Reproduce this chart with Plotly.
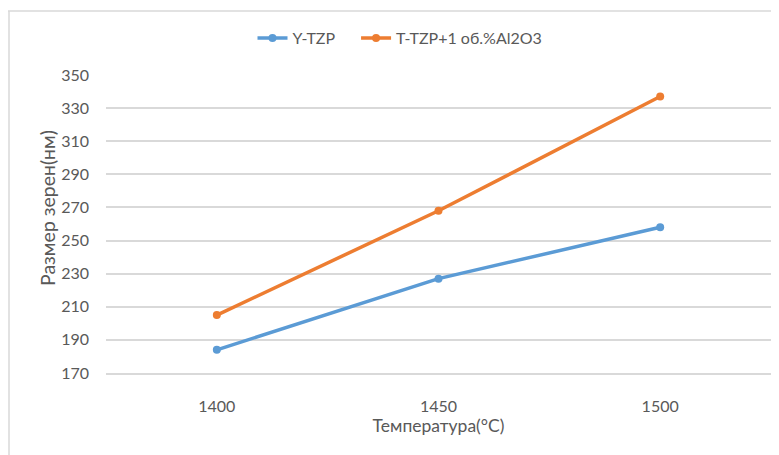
import plotly.graph_objects as go

temps = ["1400", "1450", "1500"]
y_tzp = [184, 227, 258]
t_tzp_al = [205, 268, 337]
y_ticks = [170, 190, 210, 230, 250, 270, 290, 310, 330, 350]

W, H = 779, 455
OFF = 8  # page body margin offset
L, R, T, B = 98, 16, 67, 90
pw, ph = W - L - R, H - T - B

def px(x):
    return (x - OFF - L) / pw

def py(y):
    return (H - B - (y - OFF)) / ph

font = "Lato, 'Open Sans', sans-serif"
grey = "#595959"
NB = "\u00a0"

fig = go.Figure()
fig.add_trace(go.Scatter(x=temps, y=y_tzp, name="Y-TZP" + NB * 4, mode="lines+markers",
                         line=dict(color="#5b9bd5", width=3.5),
                         marker=dict(size=8, color="#5b9bd5")))
fig.add_trace(go.Scatter(x=temps, y=t_tzp_al, name="T-TZP+1 об.%Al2O3", mode="lines+markers",
                         line=dict(color="#ed7d31", width=3.5),
                         marker=dict(size=8, color="#ed7d31")))

fig.update_layout(
    width=W, height=H,
    margin=dict(l=L, r=R, t=T, b=B),
    paper_bgcolor="white", plot_bgcolor="white",
    font=dict(family=font, color=grey, size=16),
    showlegend=True,
    legend=dict(orientation="h", x=px(400), xanchor="center", y=py(38), yanchor="middle",
                font=dict(size=16, color=grey), itemwidth=30),
    xaxis=dict(type="category", range=[-0.5, 2.5], showgrid=False,
               showline=True, linecolor="#d9d9d9", linewidth=1.5, ticks="",
               ticklabelstandoff=18,
               title=dict(text="Температура(°C)", font=dict(size=17.5, color=grey), standoff=6),
               tickfont=dict(size=16, color=grey)),
    yaxis=dict(range=[170, 350], tickvals=y_ticks, showgrid=True, gridcolor="#d9d9d9",
               gridwidth=1.5, zeroline=False, showline=False, ticks="",
               ticklabelstandoff=16,
               tickfont=dict(size=16, color=grey)),
    annotations=[
        dict(text="Размер зерен(нм)", xref="paper", yref="paper", x=px(47), y=py(208),
             xanchor="center", yanchor="middle", textangle=-90, showarrow=False,
             font=dict(size=19.5, color=grey)),
    ],
    shapes=[
        dict(type="line", xref="paper", yref="paper", x0=px(7), x1=px(790), y0=py(11), y1=py(11),
             line=dict(color="#d9d9d9", width=1.5)),
        dict(type="line", xref="paper", yref="paper", x0=px(9), x1=px(9), y0=py(11), y1=py(470),
             line=dict(color="#d9d9d9", width=1.5)),
    ],
)

fig.write_html("out.html")
